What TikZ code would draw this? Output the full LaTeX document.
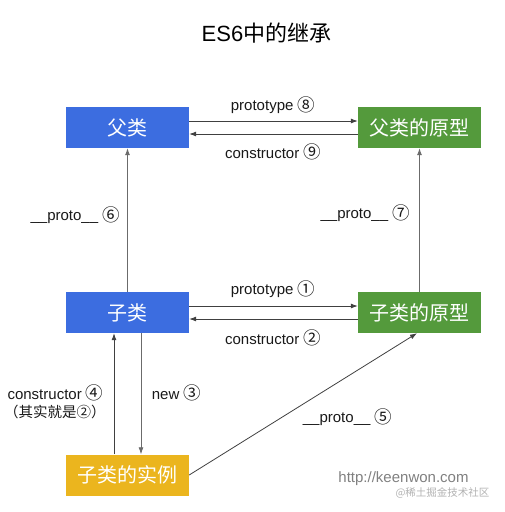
\documentclass[tikz,border=0pt]{standalone}
\usepackage{fontspec}
\setmainfont{Liberation Sans}
\newfontfamily\cjk{Noto Sans CJK SC}
\newcommand\cnum[1]{{\cjk\fontsize{17.5}{17.5}\selectfont\raisebox{-0.6pt}{#1}}}
\usetikzlibrary{arrows.meta}
\definecolor{cblue}{HTML}{3C6DE0}
\definecolor{cgreen}{HTML}{549A3C}
\definecolor{cyellow}{HTML}{EBB51E}
\begin{document}
\begin{tikzpicture}[x=1pt,y=-1pt,
  box/.style={minimum width=123pt,minimum height=41pt,inner sep=0pt,text=white,font=\cjk\fontsize{20}{20}\selectfont},
  lbl/.style={font=\fontsize{15}{16}\selectfont,inner sep=0pt,text=black!90},
  arr/.style={draw=black!75,line width=0.8pt,-{Latex[length=7pt,width=5pt]}},
  arrg/.style={arr,draw=black!58}]
\useasboundingbox (0,0) rectangle (504,512);
\node[font=\fontsize{22}{22}\selectfont,inner sep=0pt] (title) at (266.5,33) {ES6{\cjk 中的继承}};
\node[box,fill=cblue] (fu) at (127.5,127.5) {父类};
\node[box,fill=cgreen] (fup) at (419.5,127.5) {父类的原型};
\node[box,fill=cblue] (zi) at (127.5,312.5) {子类};
\node[box,fill=cgreen] (zip) at (419.5,312.5) {子类的原型};
\node[box,fill=cyellow] (inst) at (127.5,475) {子类的实例};
% horizontal arrows
\draw[arr] ([yshift=6.5pt]fu.east) -- ([yshift=6.5pt]fup.west);
\draw[arr] ([yshift=-6.5pt]fup.west) -- ([yshift=-6.5pt]fu.east);
\draw[arr] ([yshift=6.5pt]zi.east) -- ([yshift=6.5pt]zip.west);
\draw[arr] ([yshift=-6.5pt]zip.west) -- ([yshift=-6.5pt]zi.east);
% vertical arrows
\draw[arrg] (zi) -- (fu);
\draw[arrg] (zip) -- (fup);
\draw[arr] ([xshift=-13.5pt]inst.north) -- ([xshift=-13.5pt]zi.south);
\draw[arrg] ([xshift=13.5pt]zi.south) -- ([xshift=13.5pt]inst.north);
\draw[arr] (inst.east) -- ([xshift=-2.5pt]zip.south);
% labels
\node[lbl] (l8) at (273,105) {prototype \cnum{⑧}};
\node[lbl] (l9) at (273,152) {constructor \cnum{⑨}};
\node[lbl,anchor=east] (l6) at (120,215) {\_\_proto\_\_ \cnum{⑥}};
\node[lbl,anchor=east] (l7) at (410,213) {\_\_proto\_\_ \cnum{⑦}};
\node[lbl] (l1) at (273,289) {prototype \cnum{①}};
\node[lbl] (l2) at (273,338) {constructor \cnum{②}};
\node[lbl] (l4) at (55.5,393) {constructor \cnum{④}};
\node[lbl,font=\cjk\fontsize{14.5}{15}\selectfont] (l4b) at (55,412) {（其实就是②）};
\node[lbl] (l3) at (176.5,393) {new \cnum{③}};
\node[lbl] (l5) at (347.5,417) {\_\_proto\_\_ \cnum{⑤}};
% watermark
\node[font=\fontsize{15}{16}\selectfont,text=black!50,inner sep=0pt] (wm1) at (403.5,479) {http://keenwon.com};
\node[font=\cjk\fontsize{10.5}{11}\selectfont,text=black!30,inner sep=0pt] (wm2) at (442.5,493) {@稀土掘金技术社区};
\end{tikzpicture}
\end{document}
